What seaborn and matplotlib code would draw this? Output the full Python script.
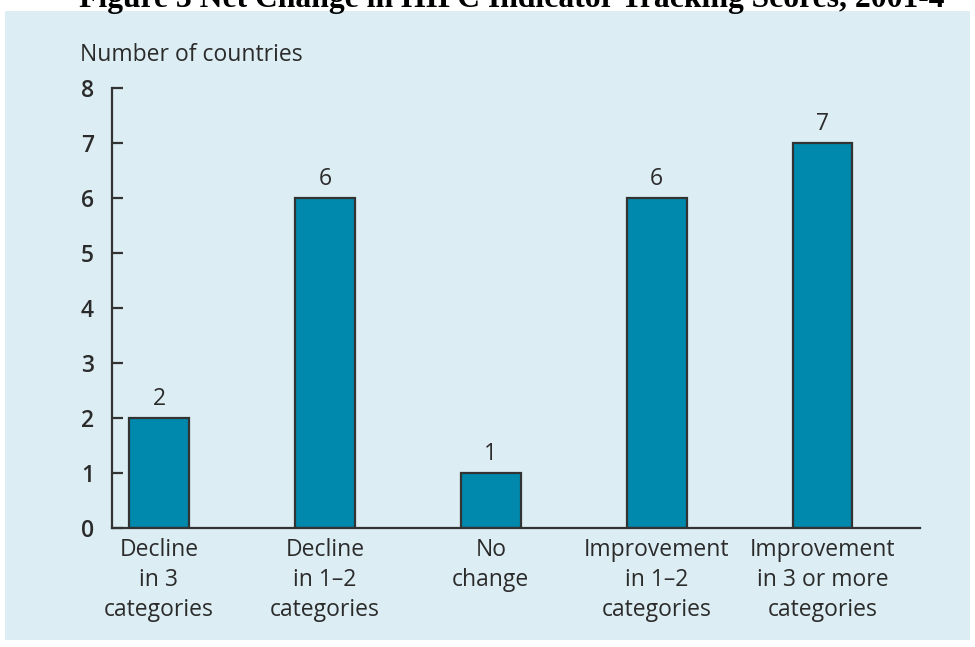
import matplotlib
matplotlib.use('Agg')
import matplotlib.pyplot as plt
import seaborn as sns
import pandas as pd
from matplotlib.patches import Rectangle

# Chart data
categories = ['Decline\nin 3\ncategories', 'Decline\nin 1\u20132\ncategories', 'No\nchange',
              'Improvement\nin 1\u20132\ncategories', 'Improvement\nin 3 or more\ncategories']
counts = [2, 6, 1, 6, 7]
y_ticks = [0, 1, 2, 3, 4, 5, 6, 7, 8]

title = 'Figure 3 Net Change in HIPC Indicator Tracking Scores, 2001-4'
y_title = 'Number of countries'

df = pd.DataFrame({'category': categories, 'count': counts})

sns.set_style('white')
plt.rcParams['font.family'] = ['Open Sans', 'DejaVu Sans']

bar_color = '#0089ad'
edge_color = '#333333'
text_color = '#2b2b2b'
panel_color = '#dcedf3'
fsize = 16.5

fig = plt.figure(figsize=(9.75, 6.47), dpi=100)
fig.patch.set_facecolor('white')

# light blue panel behind the chart
fig.patches.append(Rectangle((5 / 975, 7 / 647), 965 / 975, 629 / 647,
                             transform=fig.transFigure, facecolor=panel_color,
                             edgecolor='none', zorder=-10))

# title, clipped at the top of the image like the source
fig.text(512 / 975, 1 - 7 / 647, title, ha='center', va='baseline',
         fontsize=22.8, fontweight='bold', family=['Liberation Serif', 'DejaVu Serif'],
         color='black')

ax = fig.add_axes([112 / 975, 1 - 528 / 647, (920 - 112) / 975, (528 - 88) / 647])
ax.set_facecolor('none')
ax.set_zorder(5)

sns.barplot(data=df, x='category', y='count', ax=ax, color=bar_color,
            saturation=1, width=0.36, edgecolor=edge_color, linewidth=1.6)

ax.set_ylim(0, 8)
ax.set_xlim(-0.283, 4.587)
ax.set_yticks(y_ticks)
ax.set_xlabel('')
ax.set_ylabel('')

for s in ['top', 'right']:
    ax.spines[s].set_visible(False)
for s in ['left', 'bottom']:
    ax.spines[s].set_color(edge_color)
    ax.spines[s].set_linewidth(1.6)

ax.tick_params(axis='y', left=True, direction='in', length=8, width=1.6, color=edge_color,
               labelsize=fsize, labelcolor=text_color, pad=13)
ax.tick_params(axis='x', bottom=False, length=0, labelsize=fsize, labelcolor=text_color, pad=7)
for lbl in ax.get_xticklabels():
    lbl.set_linespacing(1.35)
    lbl.set_fontweight('medium')
for lbl in ax.get_yticklabels():
    lbl.set_fontweight('semibold')

ax.bar_label(ax.containers[0], labels=[str(c) for c in counts], padding=5,
             fontsize=fsize, fontweight='medium', color=text_color)

fig.text(80 / 975, 1 - 55 / 647, y_title, ha='left', va='center',
         fontsize=fsize, fontweight='medium', color=text_color)

fig.savefig('out.png', dpi=100, facecolor='white')
